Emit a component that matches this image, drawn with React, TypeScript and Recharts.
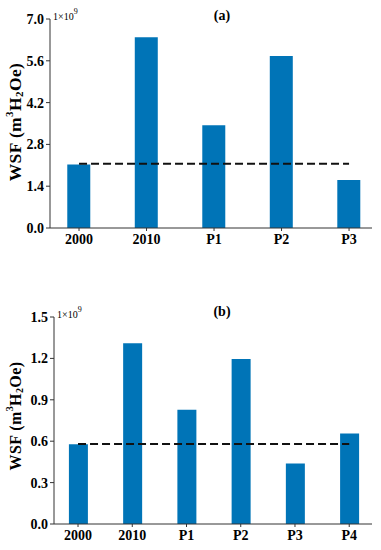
import React from 'react';
import { ComposedChart, Bar, Line, XAxis, YAxis } from 'recharts';

const categoriesA = ['2000', '2010', 'P1', 'P2', 'P3'];
const valuesA = [2.13, 6.39, 3.44, 5.76, 1.61];
const meanA = 2.15;
const ticksA = [0, 1.4, 2.8, 4.2, 5.6, 7.0];

const categoriesB = ['2000', '2010', 'P1', 'P2', 'P3', 'P4'];
const valuesB = [0.578, 1.309, 0.827, 1.195, 0.438, 0.655];
const meanB = 0.58;
const ticksB = [0, 0.3, 0.6, 0.9, 1.2, 1.5];

const FONT = 'Liberation Serif';
const BLUE = '#0074b7';
const AXIS = '#333';

const tickStyle = { fontFamily: FONT, fontWeight: 700, fontSize: 14, fill: '#000' };

const YLabel = ({ cy, size }: { cy: number; size: number }) => {
  const cx = 15;
  const small = Math.round(size * 0.65);
  return (
    <text
      x={cx}
      y={cy}
      transform={`rotate(-90 ${cx} ${cy})`}
      textAnchor="middle"
      dominantBaseline="central"
      fontFamily={FONT}
      fontWeight={700}
      fontSize={size}
      letterSpacing={0.4}
      fill="#000"
    >
      <tspan>WSF (m</tspan>
      <tspan dy={-6} fontSize={small}>3</tspan>
      <tspan dy={6}>H</tspan>
      <tspan dy={4} fontSize={small}>2</tspan>
      <tspan dy={-4}>Oe)</tspan>
    </text>
  );
};

type PanelProps = {
  categories: string[];
  values: number[];
  mean: number;
  ticks: number[];
  title: string;
  top: number;
  margin: { top: number; bottom: number; right: number };
  yWidth: number;
  domainX: [number, number];
  barSize: number;
  multTop: number;
  multLeft: number;
  titleTop: number;
  labelCy: number;
  labelSize: number;
};

const Panel = (p: PanelProps) => {
  const data = p.categories.map((c, i) => ({ x: i, name: c, value: p.values[i], mean: p.mean }));
  const yMax = p.ticks[p.ticks.length - 1];
  return (
    <div style={{ position: 'absolute', left: 0, top: p.top, width: 381, height: 275 }}>
      <ComposedChart
        width={381}
        height={275}
        data={data}
        margin={{ top: p.margin.top, bottom: p.margin.bottom, left: 0, right: p.margin.right }}
      >
        <XAxis
          dataKey="x"
          type="number"
          domain={p.domainX}
          ticks={data.map((d) => d.x)}
          tickFormatter={(v: number) => p.categories[v] ?? ''}
          allowDataOverflow
          height={30}
          tick={tickStyle}
          tickSize={3}
          tickMargin={3}
          axisLine={{ stroke: AXIS, strokeWidth: 1 }}
          tickLine={{ stroke: AXIS }}
        />
        <YAxis
          type="number"
          domain={[0, yMax]}
          ticks={p.ticks}
          tickFormatter={(v: number) => v.toFixed(1)}
          width={p.yWidth}
          tick={tickStyle}
          tickSize={4}
          tickMargin={2}
          axisLine={{ stroke: AXIS, strokeWidth: 1 }}
          tickLine={{ stroke: AXIS }}
          label={{ content: () => <YLabel cy={p.labelCy} size={p.labelSize} /> }}
        />
        <Bar dataKey="value" fill={BLUE} barSize={p.barSize} isAnimationActive={false} />
        <Line
          dataKey="mean"
          type="linear"
          stroke="#111"
          strokeWidth={2}
          strokeDasharray="8 4"
          dot={false}
          activeDot={false}
          isAnimationActive={false}
        />
      </ComposedChart>
      <div
        style={{
          position: 'absolute',
          left: 205,
          width: 34,
          top: p.titleTop,
          textAlign: 'center',
          fontFamily: FONT,
          fontWeight: 700,
          fontSize: 14,
          lineHeight: '16px',
        }}
      >
        {p.title}
      </div>
      <div
        style={{
          position: 'absolute',
          left: p.multLeft,
          top: p.multTop,
          fontFamily: FONT,
          fontSize: 10,
          lineHeight: '11px',
          whiteSpace: 'nowrap',
        }}
      >
        1×10<sup style={{ fontSize: 8, verticalAlign: 'top', lineHeight: '8px', position: 'relative', top: -3 }}>9</sup>
      </div>
    </div>
  );
};

export default function App() {
  return (
    <div style={{ position: 'absolute', left: 0, top: 0, width: 381, height: 550, background: '#fff' }}>
      <Panel
        categories={categoriesA}
        values={valuesA}
        mean={meanA}
        ticks={ticksA}
        title="(a)"
        top={0}
        margin={{ top: 19, bottom: 17, right: 9 }}
        yWidth={50}
        domainX={[-0.43, 4.34]}
        barSize={23}
        multTop={11}
        multLeft={53}
        titleTop={8}
        labelCy={122}
        labelSize={17.5}
      />
      <Panel
        categories={categoriesB}
        values={valuesB}
        mean={meanB}
        ticks={ticksB}
        title="(b)"
        top={275}
        margin={{ top: 42, bottom: -4, right: 9 }}
        yWidth={54}
        domainX={[-0.443, 5.42]}
        barSize={19}
        multTop={34}
        multLeft={57}
        titleTop={29}
        labelCy={141}
        labelSize={16}
      />
    </div>
  );
}
